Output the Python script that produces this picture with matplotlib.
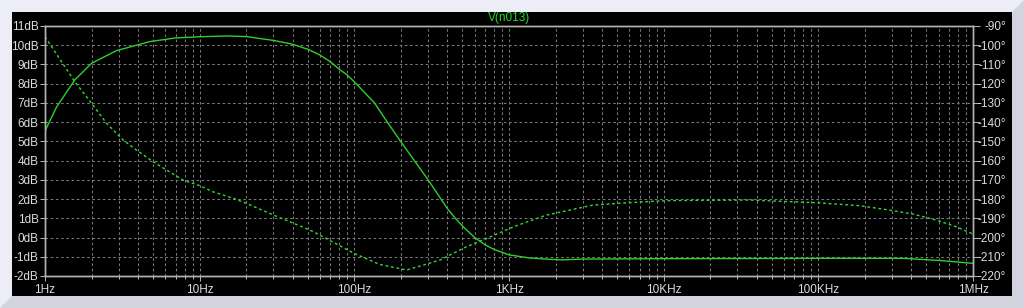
import numpy as np
import matplotlib
matplotlib.use('Agg')
import matplotlib.pyplot as plt
from matplotlib.patches import Polygon, Rectangle
from matplotlib.ticker import LogLocator, FixedLocator, NullFormatter

# magnitude of V(n013)
freq_mag = [1, 1.19, 1.56, 2, 2.9, 4.77, 7, 10, 15, 20, 30, 40, 50, 60, 70, 80, 90, 100,
            135, 160, 200, 300, 400, 450, 500, 600, 700, 800, 1000, 1350, 1800, 2200, 3000,
            10000, 100000, 350000, 600000, 1000000]
mag_db = [5.54, 6.8, 8.2, 9.06, 9.72, 10.19, 10.38, 10.44, 10.48, 10.45, 10.25, 10.05, 9.79, 9.49, 9.14, 8.75, 8.45, 8.1,
          7.0, 6.11, 4.98, 3.0, 1.5, 1.0, 0.6, 0.0, -0.38, -0.62, -0.9, -1.06, -1.13, -1.16, -1.12,
          -1.1, -1.08, -1.08, -1.19, -1.34]

# phase of V(n013)
freq_ph = [1, 1.56, 2, 2.5, 3.2, 3.9, 5, 7.8, 10, 12.2, 16.5, 20, 30, 44.6, 54.5, 100, 146, 218, 358,
           530, 720, 1070, 1750, 3500, 6400, 10500, 36000, 97000, 184000, 287000, 410000, 578000, 780000, 1000000]
phase_deg = [-95.6, -119, -130.2, -140.6, -149.3, -154.5, -160.6, -170.1, -173, -176.2, -179.6, -182.2, -188.3, -194, -197,
             -208.3, -214, -216.9, -211.7, -204.8, -200.4, -194.4, -188.3, -183.1, -181.7, -180.8, -180.5, -181.9,
             -183.4, -185.7, -187.8, -190.9, -194.4, -198.2]

db_ticks = list(range(-2, 12))
deg_ticks = list(range(-220, -89, 10))
freq_ticks = [1, 10, 100, 1e3, 1e4, 1e5, 1e6]
freq_labels = ['1Hz', '10Hz', '100Hz', '1KHz', '10KHz', '100KHz', '1MHz']

W, H = 1024, 308
fig = plt.figure(figsize=(W / 100, H / 100), dpi=100)
fig.patch.set_facecolor('#ededf7')

def fx(x):
    return x / W

def fy(y):
    return 1 - y / H

# window bevel + black plot pane
bevel = Polygon([(fx(1024), fy(0)), (fx(1012), fy(12)), (fx(1012), fy(296)), (fx(12), fy(296)),
                 (fx(0), fy(308)), (fx(1024), fy(308))], closed=True,
                transform=fig.transFigure, facecolor='#d3d3df', edgecolor='none', zorder=-2)
fig.add_artist(bevel)
pane = Rectangle((fx(12), fy(296)), fx(1000), 284 / H, transform=fig.transFigure,
                 facecolor='black', edgecolor='none', zorder=-1)
fig.add_artist(pane)

ax = fig.add_axes([fx(45), fy(276), fx(928), 250 / H])
ax.set_facecolor('black')
ax2 = ax.twinx()

grn = '#2fcf2f'
ax.plot(freq_mag, mag_db, color=grn, lw=1.0)
ax2.plot(freq_ph, phase_deg, color='#36d836', lw=1.0, linestyle=(0, (2, 2)))

ax.set_xscale('log')
ax.set_xlim(1, 1e6)
ax.set_ylim(-2, 11)
ax2.set_ylim(-220, -90)

gridcol = '#7a7a7a'
dash = (0, (2.5, 2.5))
ax.xaxis.set_major_locator(FixedLocator(freq_ticks))
ax.set_xticklabels(freq_labels)
ax.xaxis.set_minor_locator(LogLocator(base=10, subs=np.arange(2, 10), numticks=20))
ax.xaxis.set_minor_formatter(NullFormatter())
ax.set_yticks(db_ticks)
ax.set_yticklabels([f'{v}dB' for v in db_ticks])
ax2.set_yticks(deg_ticks)
ax2.set_yticklabels([f'{v}°' for v in deg_ticks])
ax.grid(True, which='both', axis='x', color=gridcol, linestyle=dash, lw=0.75)
ax.grid(True, which='major', axis='y', color=gridcol, linestyle=dash, lw=0.75)

lblcol = '#dcdcdc'
fnt = 'Liberation Sans'
ax.tick_params(axis='y', which='major', length=5 * 0.72, width=0.75, color='#b0b0b0',
               pad=1, labelsize=8.5, labelcolor=lblcol)
ax.tick_params(axis='x', which='major', length=5 * 0.72, width=0.75, color='#b0b0b0',
               pad=2, labelsize=8.5, labelcolor=lblcol)
ax.tick_params(axis='x', which='minor', length=3 * 0.72, width=0.75, color='#b0b0b0')
ax2.tick_params(axis='y', length=7 * 0.72, width=0.75, color='#b0b0b0',
                pad=18.7, labelsize=8.5, labelcolor=lblcol)
for t in ax.get_xticklabels() + ax.get_yticklabels() + ax2.get_yticklabels():
    t.set_family(fnt)
for t in ax2.get_yticklabels():
    t.set_horizontalalignment('right')

for a in (ax, ax2):
    for s in a.spines.values():
        s.set_color('#b4b4b4')
        s.set_linewidth(1.0)

fig.text(fx(509), fy(18.5), 'V(n013)', ha='center', va='center', color='#22dd22',
         fontsize=8.5, family=fnt)

fig.savefig('out.png', dpi=100, facecolor=fig.get_facecolor())
